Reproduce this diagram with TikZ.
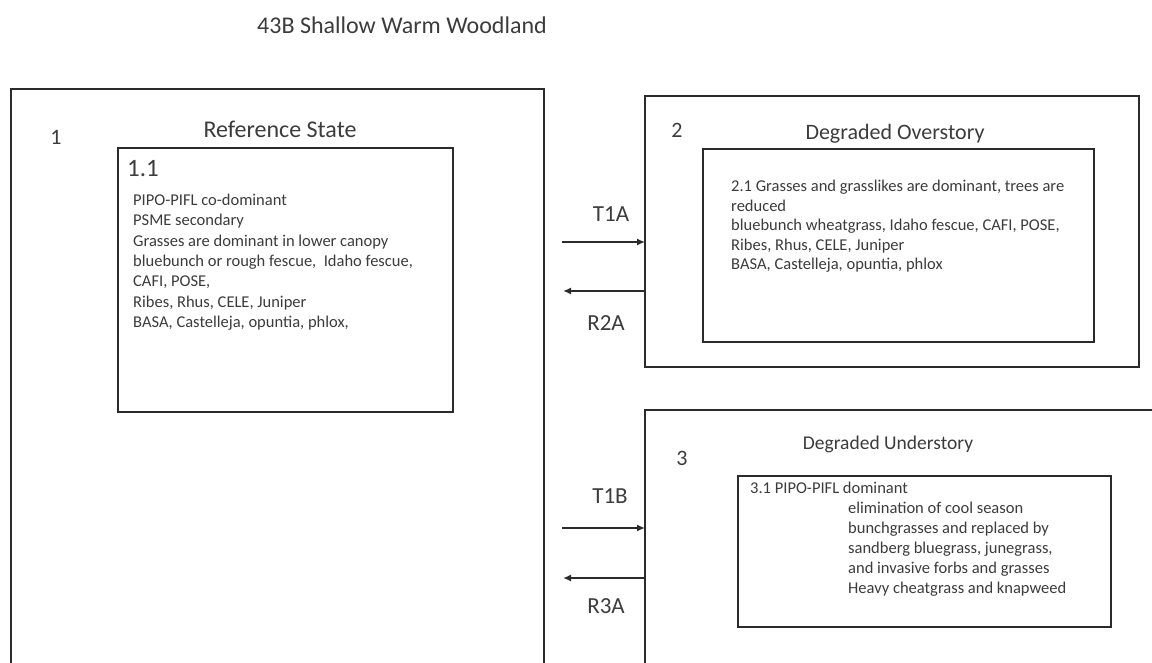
\documentclass[tikz,border=0pt]{standalone}
\usepackage{fontspec}
\setmainfont{Carlito}
\usetikzlibrary{arrows.meta}
\definecolor{ink}{HTML}{2B2B2B}
\definecolor{txt}{HTML}{3C3C3C}
\tikzset{
  outerbox/.style={draw=ink, line width=2.6pt, outer sep=0pt, inner sep=0pt},
  innerbox/.style={draw=ink, line width=2.2pt, outer sep=0pt, inner sep=0pt},
  heading/.style={text=txt, inner sep=0pt, font=\fontsize{24}{28}\selectfont},
  statenum/.style={text=txt, inner sep=0pt, font=\fontsize{22}{26}\selectfont},
  body/.style={text=txt, inner sep=0pt, anchor=north west, align=left},
  trlabel/.style={text=txt, inner sep=0pt, font=\fontsize{23}{27}\selectfont},
  arrT/.style={draw=ink, line width=1.5pt, -{Latex[length=8pt,width=7pt]}},
  arrR/.style={draw=ink, line width=2.4pt, -{Latex[length=8pt,width=7pt]}},
}
\begin{document}
\begin{tikzpicture}[x=1pt, y=-1pt]
\useasboundingbox (0,0) rectangle (1152,663);
\fill[white] (0,0) rectangle (1152,663);
\clip (0,0) rectangle (1152,663);

% title
\node[heading] (title) at (402,25) {43B Shallow Warm Woodland};

% state 1
\node[outerbox, minimum width=533pt, minimum height=611pt] (b1) at (277.5,394.5) {};
\node[statenum] (n1) at (56,137) {1};
\node[heading] (h1) at (280,129) {Reference State};
\node[innerbox, minimum width=335pt, minimum height=264pt] (b11) at (285.5,280) {};
\node[text=txt, inner sep=0pt, anchor=north west, font=\fontsize{25}{29}\selectfont] (p11) at (127,160) {1.1};
\node[body, font=\fontsize{16.5}{20.3}\selectfont] (t11) at (133,194) {PIPO-PIFL co-dominant\\
PSME secondary\\
Grasses are dominant in lower canopy\\
bluebunch or rough fescue,\ \ Idaho fescue,\\
CAFI, POSE,\\
Ribes, Rhus, CELE, Juniper\\
BASA, Castelleja, opuntia, phlox,};

% state 2
\node[outerbox, minimum width=494pt, minimum height=271pt] (b2) at (892,231.5) {};
\node[statenum] (n2) at (677,130) {2};
\node[heading, font=\fontsize{22}{26}\selectfont] (h2) at (895,134) {Degraded Overstory};
\node[innerbox, minimum width=391pt, minimum height=193pt] (b21) at (898.5,245.5) {};
\node[body, font=\fontsize{16.5}{19.5}\selectfont] (t21) at (731,180) {2.1 Grasses and grasslikes are dominant, trees are\\
reduced\\
bluebunch wheatgrass, Idaho fescue, CAFI, POSE,\\
Ribes, Rhus, CELE, Juniper\\
BASA, Castelleja, opuntia, phlox};

% state 3
\node[outerbox, minimum width=540pt, minimum height=290pt] (b3) at (915,555) {};
\node[statenum] (n3) at (682,458) {3};
\node[heading, font=\fontsize{19.5}{23}\selectfont] (h3) at (888,444) {Degraded Understory};
\node[innerbox, minimum width=373pt, minimum height=151pt] (b31) at (924.5,551.5) {};
\node[body, font=\fontsize{16.5}{20}\selectfont] (t31) at (750,482) {3.1 PIPO-PIFL dominant\\
\hspace*{98pt}elimination of cool season\\
\hspace*{98pt}bunchgrasses and replaced by\\
\hspace*{98pt}sandberg bluegrass, junegrass,\\
\hspace*{98pt}and invasive forbs and grasses\\
\hspace*{98pt}Heavy cheatgrass and knapweed};

% transitions
\coordinate (t1a) at (562,242);
\coordinate (r2a) at (563,291);
\coordinate (t1b) at (562,528);
\coordinate (r3a) at (563,578);
\draw[arrT] (t1a) -- (t1a -| b2.west);
\draw[arrR] (r2a -| b2.west) -- (r2a);
\draw[arrT] (t1b) -- (t1b -| b3.west);
\draw[arrR] (r3a -| b3.west) -- (r3a);
\node[trlabel] (lt1a) at (611,214) {T1A};
\node[trlabel] (lr2a) at (606,323) {R2A};
\node[trlabel] (lt1b) at (610,496) {T1B};
\node[trlabel] (lr3a) at (606,606) {R3A};
\end{tikzpicture}
\end{document}
